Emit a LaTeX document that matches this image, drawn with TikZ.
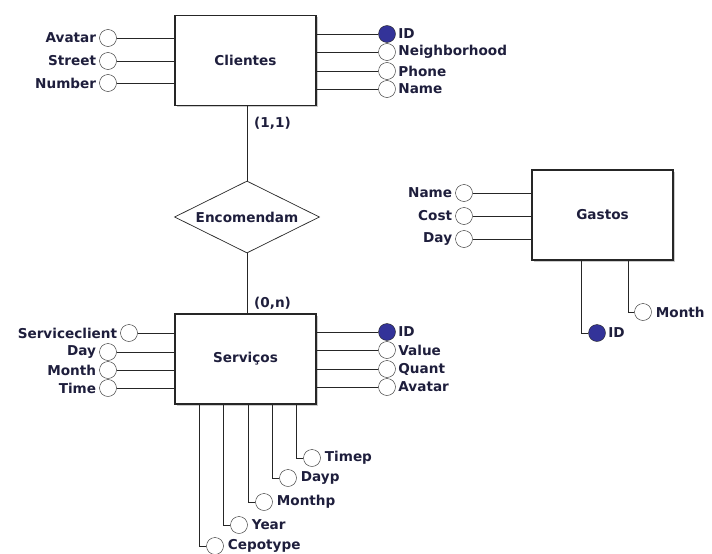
\documentclass[tikz,border=0pt]{standalone}
\usepackage{fontspec}
\setmainfont{DejaVu Sans}
\usetikzlibrary{shapes.geometric, shadows}
\definecolor{keyblue}{HTML}{333399}
\definecolor{inkdark}{HTML}{1E1E3C}

\begin{document}
\begin{tikzpicture}[
    x=1pt, y=-1pt,
    every node/.style={font=\fontsize{13.6}{15}\selectfont\bfseries, text=inkdark},
    entity/.style={rectangle, draw=black!85, line width=1.2pt, fill=white,
                   minimum width=141pt, minimum height=90pt,
                   drop shadow={shadow xshift=1.6pt, shadow yshift=-1.6pt, fill=black!40}},
    relation/.style={diamond, aspect=2, draw=black!85, line width=0.7pt, fill=white,
                     minimum width=145pt, minimum height=72pt, inner sep=0pt},
    attr/.style={circle, draw=black!85, fill=white, minimum size=17pt, inner sep=0pt},
    lbl/.style={inner sep=1pt},
    link/.style={draw=black!85, line width=1pt}
]
\useasboundingbox (0,0) rectangle (712,554);

% Entities and relationship
\node[entity] (clientes) at (245.5,60.5) {Clientes};
\node[entity] (servicos) at (245.5,359) {Serviços};
\node[entity] (gastos) at (602.5,215) {Gastos};
\node[relation] (encomendam) at (247,217) {Encomendam};

\draw[link] (encomendam.north) -- (encomendam.north |- clientes.south);
\draw[link] (encomendam.south) -- (encomendam.south |- servicos.north);
\node[lbl, anchor=west] (card1) at (253,123) {(1,1)};
\node[lbl, anchor=west] (card2) at (253,303) {(0,n)};

% Clientes attributes
\foreach \y/\name in {38/Avatar, 61/Street, 83/Number}{
  \node[attr] (c\name) at (108,\y) {};
  \node[lbl, anchor=east] (c\name-t) at ([xshift=-2pt]c\name.west) {\name};
  \draw[link] (c\name) -- (c\name -| clientes.west);
}
\foreach \y/\name/\fc in {34/ID/keyblue, 52/Neighborhood/white, 71/Phone/white, 89/Name/white}{
  \node[attr, fill=\fc] (cr\name) at (387,\y) {};
  \node[lbl, anchor=west] (cr\name-t) at ([xshift=1.5pt]cr\name.east) {\name};
  \draw[link] (cr\name) -- (cr\name -| clientes.east);
}

% Servicos attributes
\foreach \x/\y/\name in {129/333/Serviceclient, 108/352/Day, 108/370/Month, 108/388/Time}{
  \node[attr] (s\name) at (\x,\y) {};
  \node[lbl, anchor=east] (s\name-t) at ([xshift=-2pt]s\name.west) {\name};
  \draw[link] (s\name) -- (s\name -| servicos.west);
}
\foreach \y/\name/\fc in {332/ID/keyblue, 350/Value/white, 369/Quant/white, 387/Avatar/white}{
  \node[attr, fill=\fc] (sr\name) at (387,\y) {};
  \node[lbl, anchor=west] (sr\name-t) at ([xshift=1.5pt]sr\name.east) {\name};
  \draw[link] (sr\name) -- (sr\name -| servicos.east);
}
\foreach \lx/\y/\name in {199/546/Cepotype, 223/525/Year, 248/502/Monthp, 272/478/Dayp, 296/458/Timep}{
  \coordinate (s\name-top) at (\lx,404);
  \node[attr] (s\name) at (\lx+16,\y) {};
  \node[lbl, anchor=west] (s\name-t) at ([xshift=3pt]s\name.east) {\name};
  \draw[link] (s\name-top) |- (s\name);
}

% Gastos attributes
\foreach \y/\name in {193/Name, 216/Cost, 239/Day}{
  \node[attr] (g\name) at (464,\y) {};
  \node[lbl, anchor=east] (g\name-t) at ([xshift=-2pt]g\name.west) {\name};
  \draw[link] (g\name) -- (g\name -| gastos.west);
}
\coordinate (gID-top) at (581,260);
\coordinate (gMonth-top) at (628,260);
\node[attr, fill=keyblue] (gID) at (597,333) {};
\node[attr] (gMonth) at (643,312) {};
\node[lbl, anchor=west] (gID-t) at ([xshift=1.5pt]gID.east) {ID};
\node[lbl, anchor=west] (gMonth-t) at ([xshift=3pt]gMonth.east) {Month};
\draw[link] (gID-top) |- (gID);
\draw[link] (gMonth-top) |- (gMonth);

\end{tikzpicture}
\end{document}
